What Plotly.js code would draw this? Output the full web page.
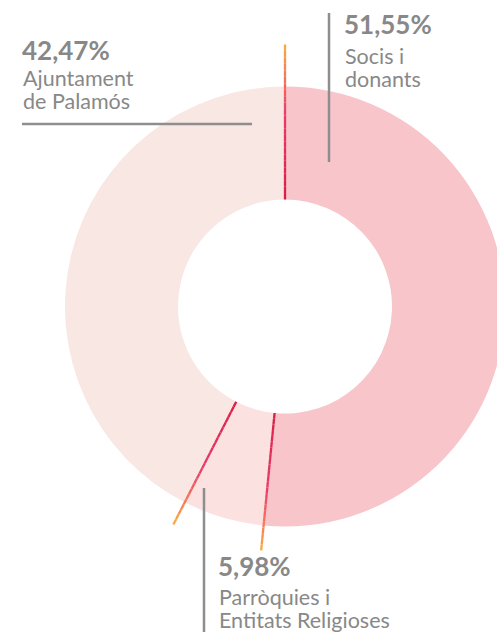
<!DOCTYPE html>
<html>
<head>
<meta charset="utf-8">
<script src="https://cdn.plot.ly/plotly-3.0.1.min.js"></script>
<style>
  html, body { margin: 0; padding: 0; overflow: hidden; background: #fff; }
  #chart { width: 520px; height: 632px; }
</style>
</head>
<body>
<div id="chart"></div>
<script>
// ---- data ----
const categories = ['Socis i donants', 'Parròquies i Entitats Religioses', 'Ajuntament de Palamós'];
const values = [51.55, 5.98, 42.47];
const percentLabels = ['51,55%', '5,98%', '42,47%'];
const labelLines = [['Socis i', 'donants'], ['Parròquies i', 'Entitats Religioses'], ['Ajuntament', 'de Palamós']];

// ---- style ----
const sliceColors = ['#f7c5ca', '#fce1e1', '#f8e7e3'];
const W = 520, H = 632;
const cx = 285, cy = 306.5, R = 220, rIn = 107;
const grey = '#888888';
const FONT = 'Lato, "Open Sans", sans-serif';

const px = x => x / W;
const py = y => 1 - y / H;

const shapes = [];
const annotations = [];

// separator lines with gradient (computed from the data's cumulative angles)
const stops = [[0, [214, 31, 70]], [0.55, [234, 58, 107]], [0.8, [244, 120, 90]], [1, [251, 174, 60]]];
function gradColor(t) {
  for (let i = 0; i < stops.length - 1; i++) {
    const [t0, c0] = stops[i], [t1, c1] = stops[i + 1];
    if (t <= t1) {
      const f = (t - t0) / (t1 - t0);
      const c = c0.map((v, k) => Math.round(v + (c1[k] - v) * f));
      return `rgb(${c[0]},${c[1]},${c[2]})`;
    }
  }
  const c = stops[stops.length - 1][1];
  return `rgb(${c[0]},${c[1]},${c[2]})`;
}
const total = values.reduce((a, b) => a + b, 0);
const outerLen = [262, 245, 245];
let cum = 0;
for (let k = 0; k < values.length; k++) {
  const theta = cum / total * 2 * Math.PI;
  const rOut = outerLen[k];
  const N = 24;
  for (let i = 0; i < N; i++) {
    const r0 = rIn + (rOut - rIn) * i / N;
    const r1 = rIn + (rOut - rIn) * (i + 1) / N;
    shapes.push({
      type: 'line', xref: 'paper', yref: 'paper',
      x0: px(cx + r0 * Math.sin(theta)), y0: py(cy - r0 * Math.cos(theta)),
      x1: px(cx + r1 * Math.sin(theta)), y1: py(cy - r1 * Math.cos(theta)),
      line: { color: gradColor((i + 0.5) / N), width: 2.3 }
    });
  }
  cum += values[k];
}

// grey leader lines
const leaders = [
  [329, 13, 329, 162],
  [22, 124, 252, 124],
  [204, 488, 204, 640]
];
leaders.forEach(([x0, y0, x1, y1]) => shapes.push({
  type: 'line', xref: 'paper', yref: 'paper',
  x0: px(x0), y0: py(y0), x1: px(x1), y1: py(y1),
  line: { color: '#8e8e8e', width: 2.5 }
}));

// labels: [x, baseline of percent, baseline of first text line]
const labelPos = [[342, 33, 63.5], [216, 575, 605], [20, 59, 86]];
function addText(x, baseline, text, size, weight) {
  annotations.push({
    xref: 'paper', yref: 'paper', x: px(x), y: py(baseline - 0.35 * size),
    xanchor: 'left', yanchor: 'middle', showarrow: false, text: text,
    font: { family: FONT, size: size, color: grey, weight: weight }
  });
}
for (let k = 0; k < categories.length; k++) {
  const [x, b1, b2] = labelPos[k];
  addText(x, b1, percentLabels[k], 26, 700);
  labelLines[k].forEach((ln, j) => addText(x + 1, b2 + j * 23, ln, 21.5, 400));
}

const trace = {
  type: 'pie',
  labels: categories,
  values: values,
  sort: false,
  direction: 'clockwise',
  rotation: 0,
  hole: rIn / R,
  textinfo: 'none',
  hoverinfo: 'none',
  showlegend: false,
  marker: { colors: sliceColors, line: { width: 0 } },
  domain: { x: [(cx - R) / W, (cx + R) / W], y: [1 - (cy + R) / H, 1 - (cy - R) / H] }
};

Plotly.newPlot('chart', [trace], {
  width: W, height: H,
  margin: { l: 0, r: 0, t: 0, b: 0 },
  paper_bgcolor: '#ffffff',
  showlegend: false,
  shapes: shapes,
  annotations: annotations
}, { staticPlot: true });
</script>
</body>
</html>
